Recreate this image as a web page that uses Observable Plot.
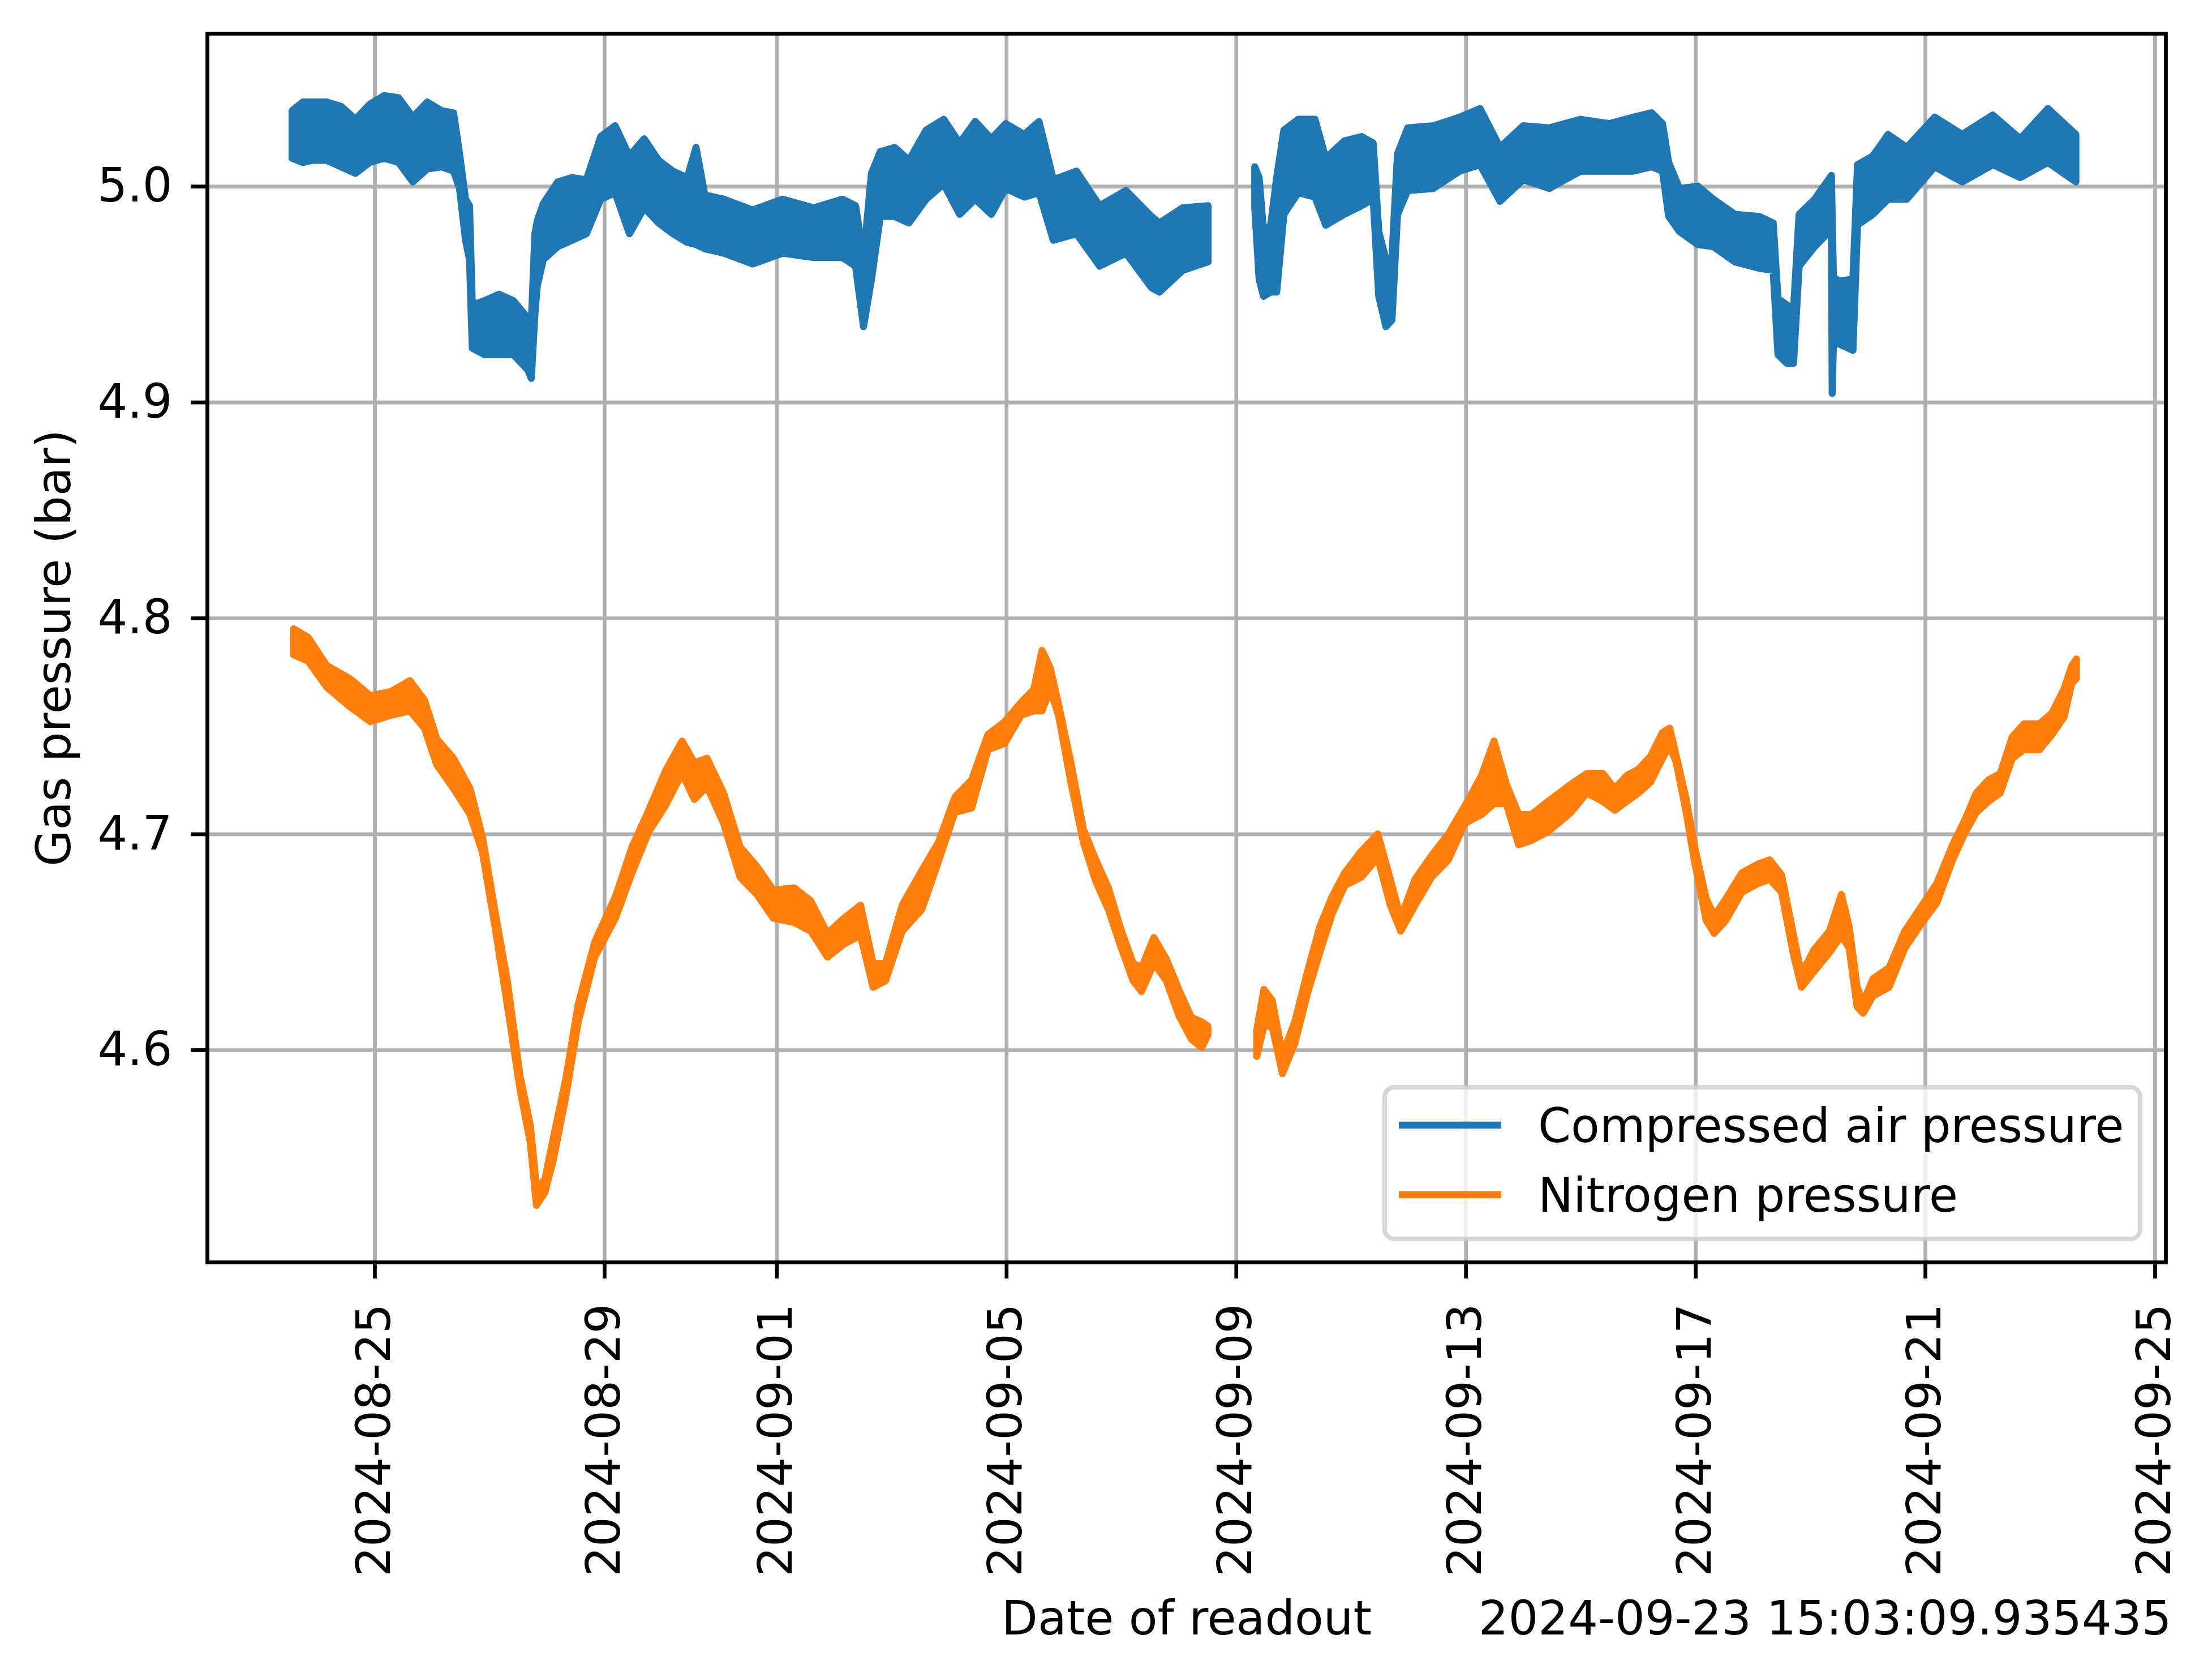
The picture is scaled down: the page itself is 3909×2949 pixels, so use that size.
<!DOCTYPE html>
<html>
<head>
<meta charset="utf-8">
<script src="https://cdn.jsdelivr.net/npm/d3@7"></script>
<script src="https://cdn.jsdelivr.net/npm/@observablehq/plot@0.6"></script>
<style>
html, body { margin: 0; padding: 0; background: #ffffff; }
svg { display: block; }
</style>
</head>
<body>
<div id="chart"></div>
<script>
// ---------- data (envelope of the noisy readings) ----------
const airTimes = [
"2024-08-23T13:30","2024-08-23T18:00","2024-08-23T22:00","2024-08-24T04:00","2024-08-24T10:00","2024-08-24T16:00",
"2024-08-24T22:00","2024-08-25T04:00","2024-08-25T10:00","2024-08-25T16:00","2024-08-25T22:00","2024-08-26T04:00",
"2024-08-26T09:00","2024-08-26T11:30","2024-08-26T14:00","2024-08-26T15:40","2024-08-26T16:50","2024-08-26T22:00",
"2024-08-27T04:00","2024-08-27T10:00","2024-08-27T16:00","2024-08-27T17:30","2024-08-27T19:00","2024-08-27T20:00",
"2024-08-27T22:30","2024-08-28T04:30","2024-08-28T10:30","2024-08-28T16:30","2024-08-28T22:30","2024-08-29T04:30",
"2024-08-29T10:30","2024-08-29T16:40","2024-08-29T22:40","2024-08-30T04:40","2024-08-30T10:40","2024-08-30T14:20",
"2024-08-30T18:00","2024-08-31T02:00","2024-08-31T14:00","2024-09-01T02:30","2024-09-01T15:30","2024-09-02T03:30",
"2024-09-02T09:00","2024-09-02T12:20","2024-09-02T15:40","2024-09-02T19:20","2024-09-03T01:20","2024-09-03T07:20",
"2024-09-03T14:30","2024-09-03T21:50","2024-09-04T04:30","2024-09-04T11:00","2024-09-04T17:45","2024-09-04T23:45",
"2024-09-05T07:30","2024-09-05T13:40","2024-09-05T19:40","2024-09-06T05:20","2024-09-06T15:00","2024-09-07T02:00",
"2024-09-07T12:40","2024-09-07T16:00","2024-09-08T01:40","2024-09-08T12:20",
"2024-09-08T22:00",
"2024-09-09T07:50","2024-09-09T09:40","2024-09-09T11:30","2024-09-09T14:30","2024-09-09T17:00","2024-09-09T20:00",
"2024-09-10T02:00","2024-09-10T09:00","2024-09-10T13:30","2024-09-10T21:15","2024-09-11T04:30","2024-09-11T09:20",
"2024-09-11T11:40","2024-09-11T14:40","2024-09-11T17:10","2024-09-11T19:30","2024-09-11T23:45","2024-09-12T10:30",
"2024-09-12T21:30","2024-09-13T06:00","2024-09-13T14:20","2024-09-14T00:00","2024-09-14T10:50","2024-09-15T00:00",
"2024-09-15T12:00","2024-09-15T22:00","2024-09-16T05:45","2024-09-16T10:15","2024-09-16T12:50","2024-09-16T17:20",
"2024-09-17T01:00","2024-09-17T07:30","2024-09-17T16:30","2024-09-18T02:40","2024-09-18T08:30","2024-09-18T10:30",
"2024-09-18T14:15","2024-09-18T17:00","2024-09-18T19:20","2024-09-19T01:50","2024-09-19T08:50","2024-09-19T09:10",
"2024-09-19T09:40","2024-09-19T12:00","2024-09-19T17:50","2024-09-19T19:45","2024-09-20T02:10","2024-09-20T08:30",
"2024-09-20T16:20","2024-09-21T04:00","2024-09-21T15:30","2024-09-22T04:15","2024-09-22T15:45","2024-09-23T03:20",
"2024-09-23T15:00"
];
const airHigh = [
5.035,5.039,5.039,5.039,5.037,5.031,
5.038,5.042,5.041,5.032,5.039,5.035,
5.034,5.015,4.994,4.991,4.945,4.947,
4.950,4.947,4.939,4.937,4.978,4.984,
4.992,5.002,5.004,5.003,5.023,5.028,
5.014,5.022,5.012,5.007,5.004,5.018,
4.996,4.994,4.989,4.994,4.990,4.994,
4.991,4.967,5.006,5.016,5.018,5.012,
5.026,5.031,5.020,5.030,5.022,5.029,
5.024,5.030,5.003,5.007,4.991,4.998,
4.986,4.983,4.990,4.991,
null,
5.009,5.004,4.979,4.982,5.004,5.026,
5.031,5.031,5.013,5.021,5.023,5.020,
4.979,4.966,4.967,5.015,5.027,5.028,
5.032,5.036,5.018,5.028,5.027,5.031,
5.029,5.032,5.034,5.029,5.011,4.999,
5.000,4.994,4.987,4.986,4.983,4.948,
4.945,4.943,4.987,4.994,5.005,4.985,
4.958,4.956,4.957,5.010,5.014,5.024,
5.018,5.032,5.024,5.033,5.022,5.036,
5.024
];
const airLow = [
5.013,5.011,5.012,5.012,5.009,5.006,
5.011,5.013,5.011,5.002,5.008,5.009,
5.007,4.999,4.975,4.966,4.925,4.922,
4.922,4.922,4.915,4.911,4.941,4.954,
4.966,4.972,4.975,4.978,4.994,4.997,
4.978,4.990,4.983,4.978,4.974,4.973,
4.971,4.969,4.964,4.969,4.967,4.967,
4.963,4.935,4.957,4.986,4.986,4.983,
4.994,5.001,4.987,4.994,4.987,4.999,
4.995,4.997,4.975,4.978,4.963,4.969,
4.953,4.951,4.961,4.965,
null,
4.990,4.957,4.949,4.951,4.951,4.987,
4.997,4.995,4.982,4.987,4.991,4.994,
4.949,4.935,4.938,4.987,4.998,4.999,
5.007,5.010,4.993,5.003,4.999,5.007,
5.007,5.007,5.009,5.007,4.986,4.979,
4.973,4.972,4.965,4.962,4.961,4.922,
4.918,4.918,4.963,4.972,4.980,4.904,
4.928,4.927,4.924,4.982,4.987,4.994,
4.994,5.009,5.002,5.010,5.004,5.011,
5.002
];

const n2Times = [
"2024-08-23T14:10","2024-08-23T20:15","2024-08-24T04:00","2024-08-24T13:35","2024-08-24T22:15","2024-08-25T06:55",
"2024-08-25T14:45","2024-08-25T20:50","2024-08-26T02:00","2024-08-26T09:00","2024-08-26T15:55","2024-08-26T21:10",
"2024-08-27T02:20","2024-08-27T07:35","2024-08-27T12:45","2024-08-27T17:05","2024-08-27T19:40","2024-08-27T23:10",
"2024-08-28T02:40","2024-08-28T07:50","2024-08-28T13:05","2024-08-28T20:00","2024-08-29T04:40","2024-08-29T11:35",
"2024-08-29T18:35","2024-08-30T01:30","2024-08-30T08:30","2024-08-30T13:40","2024-08-30T18:55","2024-08-31T01:50",
"2024-08-31T08:45","2024-08-31T15:45","2024-08-31T22:40","2024-09-01T07:20","2024-09-01T14:15","2024-09-01T21:15",
"2024-09-02T04:10","2024-09-02T11:05","2024-09-02T16:20","2024-09-02T21:30","2024-09-03T04:30","2024-09-03T12:40",
"2024-09-03T19:35","2024-09-04T02:30","2024-09-04T09:30","2024-09-04T16:20","2024-09-04T23:20","2024-09-05T06:15",
"2024-09-05T11:30","2024-09-05T14:55","2024-09-05T18:20","2024-09-05T21:50","2024-09-06T03:00","2024-09-06T08:15",
"2024-09-06T13:25","2024-09-06T18:40","2024-09-06T23:50","2024-09-07T05:00","2024-09-07T08:30","2024-09-07T13:40",
"2024-09-07T18:55","2024-09-08T00:05","2024-09-08T05:20","2024-09-08T09:40","2024-09-08T12:15",
"2024-09-08T22:00",
"2024-09-09T08:40","2024-09-09T11:40","2024-09-09T15:05","2024-09-09T19:25","2024-09-10T00:35","2024-09-10T05:50",
"2024-09-10T11:00","2024-09-10T16:10","2024-09-10T21:25","2024-09-11T04:20","2024-09-11T11:15","2024-09-11T16:30",
"2024-09-11T20:50","2024-09-12T02:50","2024-09-12T09:45","2024-09-12T16:45","2024-09-12T23:40","2024-09-13T06:35",
"2024-09-13T11:50","2024-09-13T17:00","2024-09-13T22:10","2024-09-14T03:25","2024-09-14T10:20","2024-09-14T20:00",
"2024-09-15T02:40","2024-09-15T09:20","2024-09-15T14:15","2024-09-15T19:15","2024-09-16T00:15","2024-09-16T05:15",
"2024-09-16T10:15","2024-09-16T13:15","2024-09-16T16:00","2024-09-16T20:10","2024-09-16T23:30","2024-09-17T04:30",
"2024-09-17T07:50","2024-09-17T12:45","2024-09-17T19:25","2024-09-18T02:05","2024-09-18T07:05","2024-09-18T12:00",
"2024-09-18T17:00","2024-09-18T20:20","2024-09-19T01:20","2024-09-19T08:00","2024-09-19T13:00","2024-09-19T16:15",
"2024-09-19T19:35","2024-09-19T22:05","2024-09-20T02:15","2024-09-20T08:55","2024-09-20T15:30","2024-09-20T22:10",
"2024-09-21T04:50","2024-09-21T11:30","2024-09-21T16:25","2024-09-21T21:25","2024-09-22T02:25","2024-09-22T07:25",
"2024-09-22T12:25","2024-09-22T17:20","2024-09-22T23:45","2024-09-23T05:00","2024-09-23T10:00","2024-09-23T13:20",
"2024-09-23T15:15"
];
const n2High = [
4.795,4.791,4.778,4.772,4.764,4.766,
4.771,4.762,4.744,4.735,4.721,4.698,
4.664,4.631,4.588,4.565,4.536,4.540,
4.559,4.586,4.621,4.650,4.671,4.694,
4.711,4.729,4.743,4.733,4.735,4.719,
4.694,4.685,4.674,4.675,4.669,4.654,
4.661,4.667,4.640,4.640,4.667,4.683,
4.696,4.717,4.725,4.746,4.752,4.761,
4.767,4.785,4.777,4.760,4.733,4.702,
4.688,4.675,4.656,4.640,4.638,4.652,
4.642,4.628,4.615,4.613,4.611,
null,
4.609,4.628,4.623,4.598,4.613,4.636,
4.657,4.671,4.682,4.692,4.700,4.679,
4.661,4.679,4.690,4.700,4.713,4.727,
4.743,4.723,4.709,4.709,4.715,4.723,
4.728,4.728,4.721,4.727,4.730,4.736,
4.747,4.749,4.736,4.716,4.695,4.670,
4.662,4.670,4.682,4.686,4.688,4.681,
4.653,4.635,4.646,4.655,4.672,4.657,
4.629,4.622,4.633,4.638,4.655,4.666,
4.677,4.695,4.706,4.719,4.725,4.728,
4.745,4.751,4.751,4.756,4.767,4.778,
4.781
];
const n2Low = [
4.783,4.780,4.768,4.759,4.752,4.755,
4.757,4.749,4.732,4.721,4.709,4.691,
4.657,4.620,4.582,4.557,4.528,4.534,
4.549,4.578,4.613,4.643,4.661,4.682,
4.701,4.713,4.728,4.716,4.722,4.705,
4.680,4.672,4.661,4.659,4.655,4.643,
4.649,4.653,4.629,4.632,4.655,4.665,
4.687,4.710,4.712,4.739,4.742,4.755,
4.757,4.757,4.767,4.755,4.724,4.696,
4.678,4.665,4.648,4.632,4.627,4.640,
4.632,4.616,4.605,4.601,4.607,
null,
4.597,4.611,4.611,4.589,4.603,4.626,
4.645,4.663,4.676,4.680,4.689,4.667,
4.655,4.667,4.680,4.688,4.705,4.709,
4.714,4.714,4.695,4.697,4.701,4.710,
4.719,4.715,4.711,4.715,4.719,4.724,
4.735,4.741,4.733,4.710,4.688,4.660,
4.654,4.660,4.673,4.677,4.679,4.673,
4.644,4.629,4.636,4.645,4.653,4.647,
4.620,4.617,4.625,4.629,4.647,4.658,
4.668,4.688,4.700,4.710,4.715,4.719,
4.735,4.739,4.739,4.746,4.754,4.770,
4.772
];

const xTickLabels = ["2024-08-25","2024-08-29","2024-09-01","2024-09-05","2024-09-09","2024-09-13","2024-09-17","2024-09-21","2024-09-25"];
const yTicks = [4.6, 4.7, 4.8, 4.9, 5.0];
const seriesNames = ["Compressed air pressure", "Nitrogen pressure"];
const seriesColors = ["#1f77b4", "#ff7f0e"];
const yLabel = "Gas pressure (bar)";
const xLabel = "Date of readout";
const stampText = "2024-09-23 15:03:09.935435";
const xDomain = ["2024-08-22T02:00", "2024-09-25T04:30"];
const yDomain = [4.5017, 5.0708];

// ---------- build tables ----------
const parseT = s => new Date(s + ":00Z");
function rows(times, hi, lo) {
  return times.map((t, i) => ({t: parseT(t), hi: hi[i], lo: lo[i]}));
}
const airRows = rows(airTimes, airHigh, airLow);
const n2Rows = rows(n2Times, n2High, n2Low);
const xTicks = xTickLabels.map(s => new Date(s + "T00:00:00Z"));

const FS = 83;       // font size (px)
const LW = 12.5;     // data line width
const SW = 6.7;      // spine / grid / tick width

const chart = Plot.plot({
  width: 3909,
  height: 2949,
  marginLeft: 366,
  marginRight: 82,
  marginTop: 59,
  marginBottom: 719,
  style: {fontFamily: "'DejaVu Sans', sans-serif", fontSize: FS + "px", background: "#ffffff", color: "#000000"},
  x: {type: "utc", domain: xDomain.map(parseT)},
  y: {domain: yDomain},
  marks: [
    Plot.gridX(xTicks, {stroke: "#b0b0b0", strokeOpacity: 1, strokeWidth: SW}),
    Plot.gridY(yTicks, {stroke: "#b0b0b0", strokeOpacity: 1, strokeWidth: SW}),
    Plot.areaY(airRows, {x: "t", y1: "lo", y2: "hi", fill: seriesColors[0], stroke: seriesColors[0], strokeWidth: LW, strokeLinejoin: "round"}),
    Plot.areaY(n2Rows, {x: "t", y1: "lo", y2: "hi", fill: seriesColors[1], stroke: seriesColors[1], strokeWidth: LW, strokeLinejoin: "round"}),
    Plot.frame({stroke: "#000000", strokeWidth: SW}),
    Plot.axisY(yTicks, {tickSize: 29, tickPadding: 33, tickFormat: d3.format(".1f"), label: null, strokeWidth: SW}),
    Plot.axisX(xTicks, {tickSize: 29, tickPadding: 44, tickRotate: -90, tickFormat: d3.utcFormat("%Y-%m-%d"), label: null, strokeWidth: SW}),
    Plot.text([yLabel], {frameAnchor: "left", text: d => d, rotate: -90, dx: -301, lineAnchor: "top", textAnchor: "middle"}),
    Plot.text([xLabel], {frameAnchor: "bottom", text: d => d, dy: 657, lineAnchor: "bottom", textAnchor: "middle", dx: 0}),
    Plot.text([stampText], {frameAnchor: "bottom-right", text: d => d, dy: 657, dx: 10, lineAnchor: "bottom", textAnchor: "end"})
  ]
});

// ---------- legend (matplotlib-style box, lower right inside the axes) ----------
const svg = d3.select(chart);
const lg = svg.append("g").attr("class", "legend").attr("text-anchor", "start");
lg.append("rect")
  .attr("x", 2447).attr("y", 1921).attr("width", 1335).attr("height", 268)
  .attr("rx", 17).attr("ry", 17)
  .attr("fill", "#ffffff").attr("fill-opacity", 0.8)
  .attr("stroke", "#cccccc").attr("stroke-opacity", 0.8).attr("stroke-width", 8);
seriesNames.forEach((name, i) => {
  const cy = 1988 + i * 123;
  lg.append("line")
    .attr("x1", 2472).attr("x2", 2653).attr("y1", cy).attr("y2", cy)
    .attr("stroke", seriesColors[i]).attr("stroke-width", LW);
  lg.append("text")
    .attr("x", 2718).attr("y", cy + 30)
    .attr("text-anchor", "start")
    .attr("font-family", "'DejaVu Sans', sans-serif").attr("font-size", FS)
    .attr("fill", "#000000")
    .text(name);
});

document.getElementById("chart").appendChild(chart);
</script>
</body>
</html>
